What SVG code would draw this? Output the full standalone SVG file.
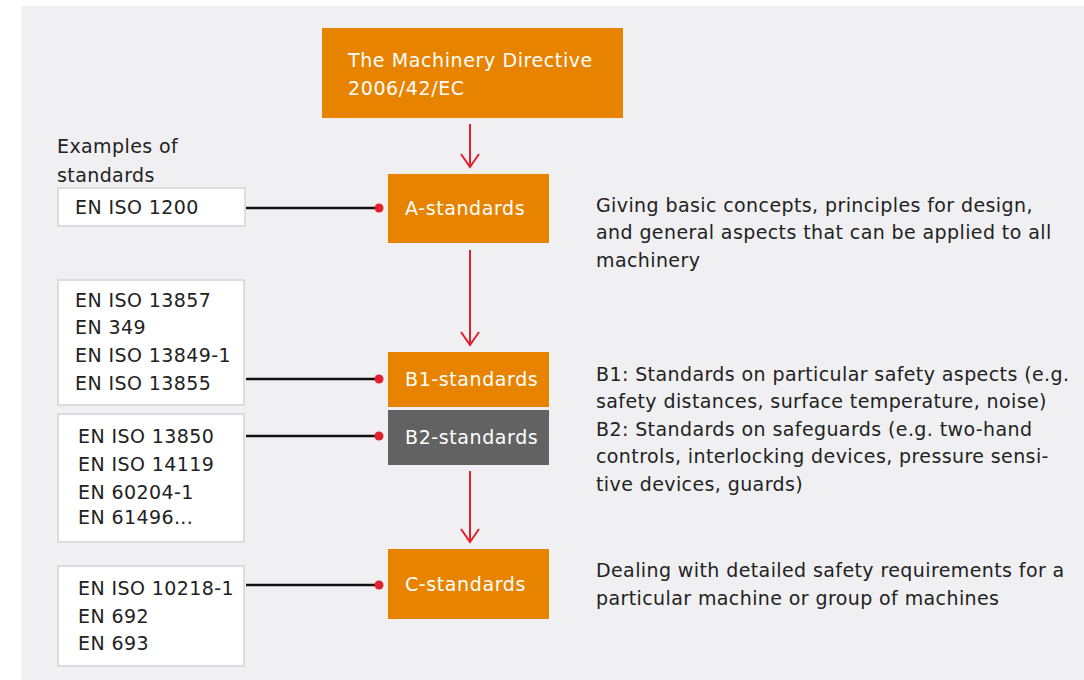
<svg xmlns="http://www.w3.org/2000/svg" width="1084" height="680" viewBox="0 0 1084 680">
<defs>
<style>
.t{font-family:"DejaVu Sans","Liberation Sans",sans-serif;font-size:19px;letter-spacing:0.4px;fill:#222}
.w{font-family:"DejaVu Sans","Liberation Sans",sans-serif;font-size:19px;letter-spacing:0.6px;fill:#fff}
.org{fill:#E88300}
.list{fill:#fff;stroke:#dcdcdd;stroke-width:2}
.arr{stroke:#E3202E;stroke-width:2;fill:none}
.con{stroke:#111;stroke-width:2.5}
.dot{fill:#E3202E}
</style>
<marker id="ah" viewBox="0 0 16 20" refX="14" refY="10" markerWidth="16" markerHeight="20" markerUnits="userSpaceOnUse" orient="auto">
<path d="M1 1 L14 10 L1 19" fill="none" stroke="#E3202E" stroke-width="2"/>
</marker>
</defs>
<rect x="0" y="0" width="1084" height="680" fill="#fff"/>
<rect x="21" y="6" width="1063" height="674" fill="#F0F0F2"/>

<g id="directive">
<rect class="org" x="322" y="28" width="301" height="90"/>
<text class="w" x="348" y="67">The Machinery Directive</text>
<text class="w" x="348" y="95">2006/42/EC</text>
</g>

<g id="examples-label">
<text class="t" x="57" y="153">Examples of</text>
<text class="t" x="57" y="182">standards</text>
</g>

<g id="a-std">
<rect class="org" x="388" y="174" width="161" height="69"/>
<text class="w" x="405" y="215">A-standards</text>
</g>
<g id="a-list">
<rect class="list" x="58" y="188" width="187" height="38"/>
<text class="t" x="75" y="214">EN ISO 1200</text>
</g>
<g id="a-desc">
<text class="t" x="596" y="212">Giving basic concepts, principles for design,</text>
<text class="t" x="596" y="239">and general aspects that can be applied to all</text>
<text class="t" x="596" y="267">machinery</text>
</g>

<g id="b1-std">
<rect class="org" x="388" y="352" width="161" height="55"/>
<text class="w" x="405" y="386">B1-standards</text>
</g>
<g id="b1-list">
<rect class="list" x="58" y="280" width="186" height="125"/>
<text class="t" x="75" y="307">EN ISO 13857</text>
<text class="t" x="75" y="334">EN 349</text>
<text class="t" x="75" y="362">EN ISO 13849-1</text>
<text class="t" x="75" y="390">EN ISO 13855</text>
</g>

<g id="b2-std">
<rect x="388" y="410" width="161" height="55" fill="#626262"/>
<text class="w" x="405" y="444">B2-standards</text>
</g>
<g id="b2-list">
<rect class="list" x="58" y="414" width="186" height="128"/>
<text class="t" x="78" y="443">EN ISO 13850</text>
<text class="t" x="78" y="471">EN ISO 14119</text>
<text class="t" x="78" y="499">EN 60204-1</text>
<text class="t" x="78" y="524">EN 61496...</text>
</g>
<g id="b-desc">
<text class="t" x="596" y="381">B1: Standards on particular safety aspects (e.g.</text>
<text class="t" x="596" y="408">safety distances, surface temperature, noise)</text>
<text class="t" x="596" y="436">B2: Standards on safeguards (e.g. two-hand</text>
<text class="t" x="596" y="463">controls, interlocking devices, pressure sensi-</text>
<text class="t" x="596" y="491">tive devices, guards)</text>
</g>

<g id="c-std">
<rect class="org" x="388" y="549" width="161" height="70"/>
<text class="w" x="405" y="591">C-standards</text>
</g>
<g id="c-list">
<rect class="list" x="58" y="566" width="186" height="100"/>
<text class="t" x="78" y="595">EN ISO 10218-1</text>
<text class="t" x="78" y="623">EN 692</text>
<text class="t" x="78" y="650">EN 693</text>
</g>
<g id="c-desc">
<text class="t" x="596" y="577">Dealing with detailed safety requirements for a</text>
<text class="t" x="596" y="605">particular machine or group of machines</text>
</g>

<g id="connectors">
<line class="arr" x1="470" y1="124" x2="470" y2="167" marker-end="url(#ah)"/>
<line class="arr" x1="470" y1="250" x2="470" y2="345" marker-end="url(#ah)"/>
<line class="arr" x1="470" y1="471" x2="470" y2="542" marker-end="url(#ah)"/>
<line class="con" x1="246" y1="208" x2="378" y2="208"/>
<circle class="dot" cx="379" cy="208" r="4.5"/>
<line class="con" x1="246" y1="379" x2="378" y2="379"/>
<circle class="dot" cx="379" cy="379" r="4.5"/>
<line class="con" x1="246" y1="436" x2="378" y2="436"/>
<circle class="dot" cx="379" cy="436" r="4.5"/>
<line class="con" x1="246" y1="585" x2="378" y2="585"/>
<circle class="dot" cx="379" cy="585" r="4.5"/>
</g>
</svg>
